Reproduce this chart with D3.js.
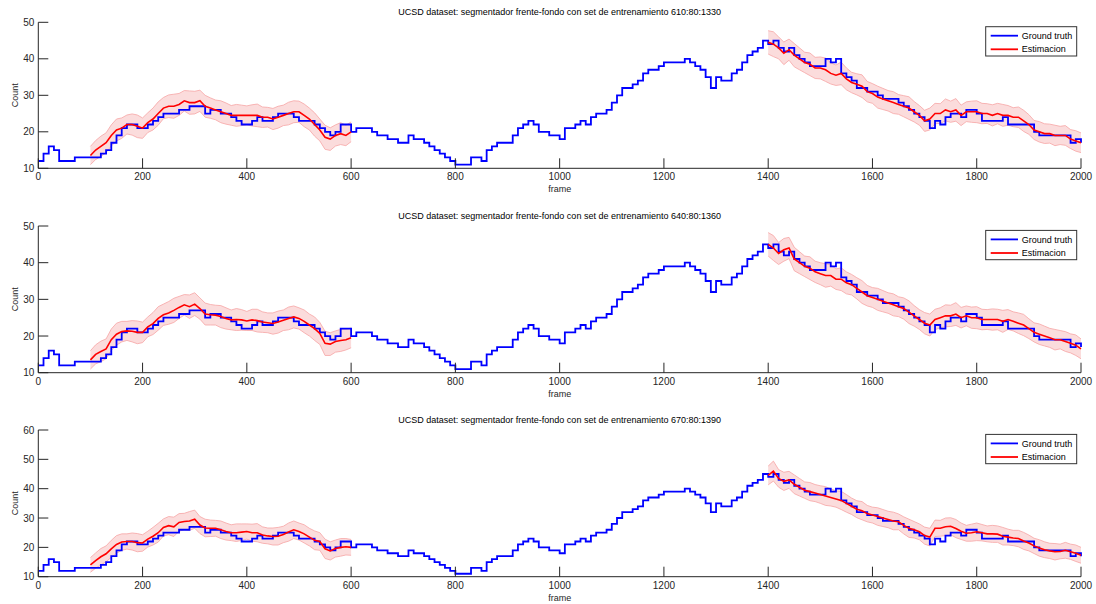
<!DOCTYPE html>
<html>
<head>
<meta charset="utf-8">
<script src="https://cdn.jsdelivr.net/npm/d3@7"></script>
<style>
  body { margin: 0; background: #fff; }
  svg { display: block; font-family: "Liberation Sans", Arial, sans-serif; }
</style>
</head>
<body>
<div id="vis"></div>
<script>
var width = 1096;
var height = 604;

// ground truth count, one value every 10 frames (0..2000)
var groundTruth = [
  12,14,16,15,12,12,12,13,13,13, 13,13,14,15,17,19,21,22,22,21,
  21,22,23,24,25,25,25,26,26,27, 27,27,25,26,26,25,25,24,23,22,
  22,23,24,23,23,24,25,25,25,24, 23,23,23,22,21,20,19,20,22,22,
  20,21,21,21,20,19,19,18,18,17, 17,19,18,18,17,16,15,14,13,12,
  11,11,11,13,13,12,15,16,17,17, 17,19,21,22,23,22,20,20,19,19,
  18,21,21,22,23,22,24,25,25,26, 28,30,32,32,33,34,36,37,37,38,
  39,39,39,39,40,39,38,37,35,32, 35,34,34,36,37,39,41,42,43,45,
  44,45,43,42,43,41,40,39,38,38, 38,40,39,40,36,35,34,32,32,31,
  31,30,29,29,29,28,27,26,25,24, 23,21,23,22,24,25,25,24,26,26,
  25,23,23,23,23,24,22,22,22,22, 22,20,19,19,19,19,19,19,17,18,
  17
];
var gtStep = 10;

// estimation segments: frames 100..600 and 1400..2000, every 10 frames
var segStartA = 100;
var segStartB = 1400;
var segStep = 10;

var est1A = [
  13.5,15,16,17,19,20.5,21,22,22,21.5, 21,22.5,23.5,25,26.5,27,27,27.5,28.5,28,
  28,28.5,27,26.5,26,25.5,25,24.5,24.5,24.5, 24.5,24.5,24.5,24,24,23.5,24,24.5,25,25.5,
  25.5,24.5,23.5,22,20.5,18.5,18,19,19.5,19, 20
];
var est1B = [
  44.5,44,43,41.5,42.5,41,40,39,38.5,37.5, 37.5,37,36,35.5,36,34.5,33.5,33,32.5,31,
  30.5,29.5,29,28.5,28,27.5,27,26.5,25.5,24.5, 23,23.5,25,25,26,25.5,26,24.5,25.5,25.5,
  25.5,25,25,24.5,25,24.5,24.5,24,24,23, 22,20.5,20,19.5,19.5,19,19,19,18,17.5,
  17
];
var est2A = [
  13.5,15,15.8,16.5,19,20.5,21.2,21.4,21.3,21, 21,22.5,23.4,24.8,25.8,26.3,27,27.8,28.5,28,
  28.7,27.5,26,25.8,25.7,25.3,24.8,24.4,24.5,24.4, 24.1,24.4,24.2,23.8,23.6,23.4,23.8,24.3,24.8,25.2,
  24.8,24,23,22,20.7,18,17.8,18.5,18.8,19, 19.5
];
var est2B = [
  45,44,42.5,43.5,44,41,40,39,38.5,37.5, 37,36.5,36.5,35.5,35.5,34.5,34,33,32,31,
  30.5,30,29.5,29,28.5,28,27.5,26.5,25.5,24.5, 23.5,23,24.5,25,25.5,25.5,26,25,25.5,25,
  25,24.5,24.5,24.5,24.5,24,24.5,24,23.5,23, 22,21,20.5,20,19.5,19,19,18.5,18,17.5,
  16.5
];
var est3A = [
  14,15.5,16.8,17.8,19.5,21,21.8,22,22,21.6, 21.5,22.8,23.8,25,26.8,27.4,27,28.5,28.8,29,
  29.6,27.6,26.6,26.5,26.5,26,25.4,25,25,25.2, 25.4,25,25,24.2,23.9,23.7,23.8,24.4,25.2,26,
  25.4,24.6,23.5,22.4,22,19.5,18.8,19.6,20,20.2, 20
];
var est3B = [
  44.5,46,43.5,42.5,43,41.5,40.5,39.5,39,38.5, 38,37.5,37,36.5,36,35,34,33,32.5,31.5,
  31,30.5,30,29.5,29,28.7,27.5,26.5,26,25.3, 24,23.5,26.5,26.5,27,27.2,26.4,25.5,24.8,25,
  25.3,25,24.6,24.6,24.5,23.8,23.5,23.2,23,22.2, 21.5,20.5,19.8,19.2,18.8,18.5,18.6,19,18.5,18,
  17.3
];

// half width of the shaded band around the estimation
var bandA = [
  2.5,2.6,2.8,2.7,2.9,3.0,2.8,2.6,2.9,3.1, 2.8,2.7,3.0,3.2,2.9,3.1,3.3,3.0,2.8,3.2,
  3.1,2.9,3.0,2.8,2.7,3.0,2.9,2.7,3.0,2.8, 2.6,2.9,3.1,2.8,2.7,2.9,3.0,2.8,3.1,3.0,
  2.9,3.1,3.0,3.2,3.0,3.3,3.1,2.9,3.0,2.8, 2.7
];
var bandB = [
  3.2,3.4,3.0,3.1,2.9,3.2,3.0,2.8,3.1,2.9, 3.0,3.2,2.9,2.8,3.1,3.0,2.8,2.9,3.1,2.8,
  2.7,3.0,2.9,2.8,3.0,2.7,2.9,3.1,2.8,2.7, 2.9,3.0,2.8,2.7,3.0,2.9,3.1,2.8,2.7,2.9,
  3.0,2.8,2.7,2.9,2.8,3.0,2.7,2.6,2.8,2.9, 2.7,2.6,2.8,2.7,2.6,2.8,2.5,2.7,2.6,2.8,
  2.7
];

var titles = [
  "UCSD dataset: segmentador frente-fondo con set de entrenamiento 610:80:1330",
  "UCSD dataset: segmentador frente-fondo con set de entrenamiento 640:80:1360",
  "UCSD dataset: segmentador frente-fondo con set de entrenamiento 670:80:1390"
];
var yMaxes = [50, 50, 60];
var xTicks = [0, 200, 400, 600, 800, 1000, 1200, 1400, 1600, 1800, 2000];
var legendLabels = ["Ground truth", "Estimacion"];

var panels = [
  {top: 22.3, bottom: 168.3, estA: est1A, estB: est1B},
  {top: 226, bottom: 372.7, estA: est2A, estB: est2B},
  {top: 430, bottom: 576.7, estA: est3A, estB: est3B}
];

var left = 38.3, right = 1081;
var axisCol = "#262626";

var svg = d3.select("#vis")
  .append("svg")
  .attr("width", width)
  .attr("height", height);

var x = d3.scaleLinear().domain([0, 2000]).range([left, right]);

function toSeries(vals, start, step, band) {
  return vals.map((v, i) => ({f: start + i * step, v: v, b: band ? band[i] : 0}));
}

var gtData = toSeries(groundTruth, 0, gtStep);

panels.forEach(function(p, k) {
  var y = d3.scaleLinear().domain([10, yMaxes[k]]).range([p.bottom, p.top]);
  var g = svg.append("g");

  var segs = [toSeries(p.estA, segStartA, segStep, bandA), toSeries(p.estB, segStartB, segStep, bandB)];

  // band
  var area = d3.area()
    .x(d => x(d.f))
    .y0(d => y(d.v - d.b))
    .y1(d => y(d.v + d.b));
  g.selectAll("path.band")
    .data(segs)
    .enter()
    .append("path")
    .attr("class", "band")
    .attr("d", area)
    .attr("fill", "#fbdcdc")
    .attr("stroke", "none");

  var edgeLo = d3.line().x(d => x(d.f)).y(d => y(d.v - d.b));
  var edgeHi = d3.line().x(d => x(d.f)).y(d => y(d.v + d.b));
  segs.forEach(function(s) {
    g.append("path").attr("d", edgeLo(s)).attr("fill", "none")
      .attr("stroke", "#f6a5a5").attr("stroke-width", 0.8);
    g.append("path").attr("d", edgeHi(s)).attr("fill", "none")
      .attr("stroke", "#f6a5a5").attr("stroke-width", 0.8);
  });

  // ground truth
  g.append("path")
    .datum(gtData)
    .attr("d", d3.line().curve(d3.curveStepAfter).x(d => x(d.f)).y(d => y(d.v)))
    .attr("fill", "none")
    .attr("stroke", "#0000ff")
    .attr("stroke-width", 1.8);

  // estimation
  g.selectAll("path.est")
    .data(segs)
    .enter()
    .append("path")
    .attr("class", "est")
    .attr("d", d3.line().x(d => x(d.f)).y(d => y(d.v)))
    .attr("fill", "none")
    .attr("stroke", "#ff0000")
    .attr("stroke-width", 1.6);

  // axes
  var xAxis = g.append("g").attr("transform", `translate(0,${p.bottom})`);
  xAxis.append("line").attr("x1", left).attr("x2", right)
    .attr("stroke", axisCol);
  xAxis.selectAll("line.tick")
    .data(xTicks)
    .enter()
    .append("line")
    .attr("class", "tick")
    .attr("x1", d => x(d)).attr("x2", d => x(d))
    .attr("y1", 0).attr("y2", -10)
    .attr("stroke", axisCol);
  xAxis.selectAll("text")
    .data(xTicks)
    .enter()
    .append("text")
    .attr("x", d => x(d))
    .attr("y", 12)
    .attr("text-anchor", "middle")
    .style("font-size", "10px")
    .attr("fill", axisCol)
    .text(d => d);

  var yTicks = d3.range(10, yMaxes[k] + 1, 10);
  var yAxis = g.append("g").attr("transform", `translate(${left},0)`);
  yAxis.append("line").attr("y1", p.top).attr("y2", p.bottom)
    .attr("stroke", axisCol);
  yAxis.selectAll("line.tick")
    .data(yTicks)
    .enter()
    .append("line")
    .attr("class", "tick")
    .attr("y1", d => y(d)).attr("y2", d => y(d))
    .attr("x1", 0).attr("x2", 10)
    .attr("stroke", axisCol);
  yAxis.selectAll("text")
    .data(yTicks)
    .enter()
    .append("text")
    .attr("x", -4)
    .attr("y", d => y(d))
    .attr("dy", "0.35em")
    .attr("text-anchor", "end")
    .style("font-size", "10px")
    .attr("fill", axisCol)
    .text(d => d);

  g.append("text")
    .attr("x", (left + right) / 2)
    .attr("y", p.bottom + 24)
    .attr("text-anchor", "middle")
    .style("font-size", "9px")
    .attr("fill", axisCol)
    .text("frame");

  g.append("text")
    .attr("transform", `translate(18,${(p.top + p.bottom) / 2}) rotate(-90)`)
    .attr("text-anchor", "middle")
    .style("font-size", "9px")
    .attr("fill", axisCol)
    .text("Count");

  g.append("text")
    .attr("x", (left + right) / 2)
    .attr("y", p.top - 7)
    .attr("text-anchor", "middle")
    .style("font-size", "9px")
    .attr("fill", "#000")
    .text(titles[k]);

  // legend
  var lg = g.append("g").attr("transform", `translate(985.7,${p.top + 4.4})`);
  lg.append("rect")
    .attr("width", 91).attr("height", 29.3)
    .attr("fill", "#fff")
    .attr("stroke", "#333");
  var colors = ["#0000ff", "#ff0000"];
  legendLabels.forEach(function(lbl, i) {
    var yy = 9 + i * 13.6;
    lg.append("line").attr("x1", 5).attr("x2", 32.3)
      .attr("y1", yy).attr("y2", yy)
      .attr("stroke", colors[i]).attr("stroke-width", 1.8);
    lg.append("text").attr("x", 36).attr("y", yy).attr("dy", "0.35em")
      .style("font-size", "9px").attr("fill", "#000").text(lbl);
  });
});
</script>
</body>
</html>
